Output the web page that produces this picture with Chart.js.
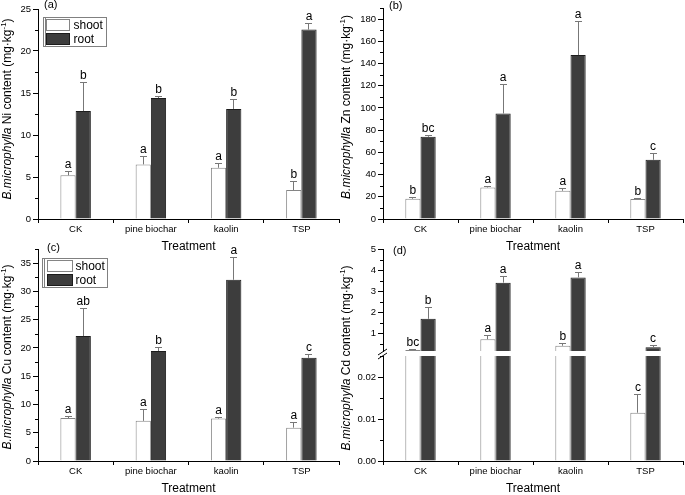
<!DOCTYPE html>
<html>
<head>
<meta charset="utf-8">
<script src="https://cdn.jsdelivr.net/npm/chart.js@4.4.1/dist/chart.umd.min.js"></script>
<style>
html,body{margin:0;padding:0;background:#fff;}
#wrap{position:relative;width:685px;height:495px;overflow:hidden;background:#fff;}
#wrap canvas{position:absolute;}
</style>
</head>
<body>
<div id="wrap">
<canvas id="cA" width="342" height="254" style="left:0;top:0"></canvas>
<canvas id="cB" width="345" height="254" style="left:340px;top:0"></canvas>
<canvas id="cC" width="342" height="256" style="left:0;top:240px"></canvas>
<canvas id="cD2" width="345" height="256" style="left:340px;top:240px"></canvas>
<canvas id="cD1" width="345" height="120" style="left:340px;top:240px"></canvas>
</div>
<script>
// ---------------- data ----------------
const categories = ['CK', 'pine biochar', 'kaolin', 'TSP'];
const seriesNames = ['shoot', 'root'];
const xTitle = 'Treatment';

// (a) Ni
const niShoot = [5.2, 6.5, 6.1, 3.45];
const niShootErr = [0.5, 1.05, 0.55, 1.05];
const niRoot = [12.85, 14.4, 13.1, 22.55];
const niRootErr = [3.5, 0.3, 1.2, 0.75];
const niShootLetters = ['a', 'a', 'a', 'b'];
const niRootLetters = ['b', 'b', 'b', 'a'];

// (b) Zn
const znShoot = [18.2, 28.4, 25.4, 18.0];
const znShootErr = [1.2, 1.5, 2.7, 0.9];
const znRoot = [74, 95, 147.6, 53.3];
const znRootErr = [1.7, 26.3, 30.6, 6.3];
const znShootLetters = ['b', 'a', 'a', 'b'];
const znRootLetters = ['bc', 'a', 'a', 'c'];

// (c) Cu
const cuShoot = [7.6, 7.1, 7.5, 5.9];
const cuShootErr = [0.36, 2.1, 0.35, 1.0];
const cuRoot = [22.1, 19.45, 32.05, 18.25];
const cuRootErr = [4.9, 0.7, 4.0, 0.6];
const cuShootLetters = ['a', 'a', 'a', 'a'];
const cuRootLetters = ['ab', 'b', 'a', 'c'];

// (d) Cd (broken axis)
const cdShoot = [0.2, 0.71, 0.4, 0.0115];
const cdShootErr = [0.03, 0.21, 0.12, 0.0044];
const cdRoot = [1.68, 3.4, 3.65, 0.33];
const cdRootErr = [0.56, 0.33, 0.25, 0.11];
const cdShootLetters = ['bc', 'a', 'b', 'c'];
const cdRootLetters = ['b', 'a', 'a', 'c'];

// ---------------- drawing ----------------
const FONT = "'Liberation Sans', Arial, Helvetica, sans-serif";

const decor = {
  id: 'decor',
  afterDatasetsDraw(chart, args, o) {
    if (!o.errs) return;
    const ctx = chart.ctx, y = chart.scales.y;
    ctx.save();
    chart.data.datasets.forEach((ds, i) => {
      const meta = chart.getDatasetMeta(i);
      meta.data.forEach((el, j) => {
        const v = ds.data[j], e = o.errs[i][j];
        if (v < y.min || v > y.max) return;
        const x = Math.floor(el.x) + 0.5;
        const py = y.getPixelForValue(v);
        const pe = Math.round(y.getPixelForValue(v + e)) + 0.5;
        ctx.strokeStyle = '#777'; ctx.lineWidth = 1;
        ctx.beginPath();
        ctx.moveTo(x, py); ctx.lineTo(x, pe);
        ctx.moveTo(x - 3.5, pe); ctx.lineTo(x + 3.5, pe);
        ctx.stroke();
        ctx.fillStyle = '#000';
        ctx.font = '12px ' + FONT;
        ctx.textAlign = 'center'; ctx.textBaseline = 'alphabetic';
        ctx.fillText(o.letters[i][j], el.x, pe - 3.5);
      });
    });
    ctx.restore();
  },
  afterDraw(chart, args, o) {
    const ctx = chart.ctx, y = chart.scales.y;
    ctx.save();
    if (o.minor) {
      const m = o.minor, maj = o.major;
      ctx.strokeStyle = '#000'; ctx.lineWidth = 1;
      ctx.beginPath();
      for (let k = Math.ceil(y.min / m - 1e-9); k * m <= y.max + 1e-9; k++) {
        const v = k * m, r = v / maj;
        if (Math.abs(r - Math.round(r)) < 1e-6) continue;
        const py = Math.round(y.getPixelForValue(v)) + 0.5;
        ctx.moveTo(y.right - 3, py); ctx.lineTo(y.right, py);
      }
      ctx.stroke();
    }
    if (o.legend) {
      const L = o.legend, ca = chart.chartArea;
      const bx = Math.round(ca.left + L.dx) + 0.5, by = Math.round(ca.top + L.dy) + 0.5;
      ctx.fillStyle = '#fff'; ctx.fillRect(bx, by, L.w, L.h);
      ctx.strokeStyle = '#808080'; ctx.lineWidth = 1;
      ctx.strokeRect(bx, by, L.w, L.h);
      ctx.beginPath(); ctx.moveTo(bx + 2, by); ctx.lineTo(bx + 2, by + L.h); ctx.stroke();
      chart.data.datasets.forEach((ds, i) => {
        const sx = bx + L.sx, sy = by + L.sy + i * L.rowH;
        ctx.fillStyle = ds.backgroundColor; ctx.fillRect(sx, sy, L.sw, L.sh);
        ctx.strokeStyle = ds.borderColor; ctx.strokeRect(sx, sy, L.sw, L.sh);
        ctx.fillStyle = '#000'; ctx.font = L.font + 'px ' + FONT;
        ctx.textAlign = 'left'; ctx.textBaseline = 'middle';
        ctx.fillText(ds.label, bx + L.tx, sy + L.sh / 2 + 0.5);
      });
    }
    if (o.title) {
      ctx.save();
      ctx.translate(o.title.x, o.title.y); ctx.rotate(-Math.PI / 2);
      const segs = o.title.segs;
      const fonts = segs.map(s => s[1] === 'i' ? 'italic 12px ' + FONT : (s[1] === 'sup' ? '8px ' + FONT : '12px ' + FONT));
      let total = 0;
      segs.forEach((s, k) => { ctx.font = fonts[k]; total += ctx.measureText(s[0]).width; });
      let cx = -total / 2;
      ctx.textBaseline = 'middle'; ctx.textAlign = 'left'; ctx.fillStyle = '#000';
      segs.forEach((s, k) => {
        ctx.font = fonts[k];
        ctx.fillText(s[0], cx, s[1] === 'sup' ? -4 : 0);
        cx += ctx.measureText(s[0]).width;
      });
      ctx.restore();
    }
    if (o.label) {
      ctx.fillStyle = '#000'; ctx.font = '11px ' + FONT;
      ctx.textAlign = 'left'; ctx.textBaseline = 'middle';
      ctx.fillText(o.label.text, o.label.x, o.label.y);
    }
    if (o.brk) {
      ctx.strokeStyle = '#000'; ctx.lineWidth = 1;
      ctx.beginPath();
      o.brk.forEach(l => { ctx.moveTo(l[0], l[1]); ctx.lineTo(l[2], l[3]); });
      ctx.stroke();
    }
    ctx.restore();
  }
};

function build(id, p) {
  const datasets = [
    { label: seriesNames[0], data: p.shoot, backgroundColor: '#ffffff', borderColor: '#858585',
      borderWidth: 1, clip: 0, categoryPercentage: 0.405, barPercentage: 1 },
    { label: seriesNames[1], data: p.root, backgroundColor: '#3d3d3d', borderColor: '#1c1c1c',
      borderWidth: 1, clip: 0, categoryPercentage: 0.405, barPercentage: 1 }
  ];
  const tickFont = { family: FONT, size: 9.5 };
  return new Chart(document.getElementById(id), {
    type: 'bar',
    data: { labels: categories, datasets },
    plugins: [decor],
    options: {
      responsive: false, animation: false, devicePixelRatio: 1,
      layout: { padding: p.pad },
      plugins: {
        legend: { display: false }, tooltip: { enabled: false },
        decor: {
          errs: [p.shootErr, p.rootErr], letters: [p.shootLetters, p.rootLetters],
          minor: p.minor, major: p.step, legend: p.legend, title: p.title,
          label: p.label, brk: p.brk
        }
      },
      scales: {
        x: {
          display: p.showX, offset: true,
          grid: { offset: true, drawOnChartArea: false, drawTicks: true, tickLength: 4, tickColor: '#000' },
          border: { display: true, color: '#000', width: 1 },
          ticks: { font: tickFont, color: '#000', padding: 1, autoSkip: false, maxRotation: 0 },
          title: { display: true, text: xTitle, font: { family: FONT, size: 12 }, color: '#000', padding: { top: 0, bottom: 0 } },
          afterFit(s) { s.height = p.showX ? 35 : 0; }
        },
        y: {
          min: p.min, max: p.max,
          grid: { drawOnChartArea: false, drawTicks: true, tickLength: 5, tickColor: '#000' },
          border: { display: true, color: '#000', width: 1 },
          ticks: { stepSize: p.step, font: tickFont, color: '#000', padding: 2,
                   callback: v => p.fmt ? p.fmt(v) : String(v) },
          afterBuildTicks(s) {
            s.ticks = s.ticks.filter(t => {
              const r = t.value / p.step;
              return Math.abs(r - Math.round(r)) < 1e-6 && t.value >= p.min - 1e-9 && t.value <= p.max + 1e-9;
            });
          },
          afterFit(s) { s.width = p.yWidth; }
        }
      }
    }
  });
}

build('cA', {
  shoot: niShoot, root: niRoot, shootErr: niShootErr, rootErr: niRootErr,
  shootLetters: niShootLetters, rootLetters: niRootLetters,
  min: 0, max: 25, step: 5, minor: 2.5, yWidth: 38, showX: true,
  pad: { top: 9, right: 3, bottom: 0, left: 0 },
  legend: { dx: 5, dy: 8, w: 63, h: 29, sx: 3, sy: 2, sw: 23, sh: 11, rowH: 14, tx: 30, font: 12 },
  title: { x: 8, y: 109, segs: [['B.microphylla', 'i'], [' Ni content (mg\u00b7kg', ''], ['-1', 'sup'], [')', '']] },
  label: { text: '(a)', x: 44, y: 5 }
});

build('cB', {
  shoot: znShoot, root: znRoot, shootErr: znShootErr, rootErr: znRootErr,
  shootLetters: znShootLetters, rootLetters: znRootLetters,
  min: 0, max: 190, step: 20, minor: 10, yWidth: 43, showX: true,
  pad: { top: 8, right: 2, bottom: 0, left: 0 },
  title: { x: 7, y: 107, segs: [['B.microphylla', 'i'], [' Zn content (mg\u00b7kg', ''], ['-1', 'sup'], [')', '']] },
  label: { text: '(b)', x: 49, y: 6 }
});

build('cC', {
  shoot: cuShoot, root: cuRoot, shootErr: cuShootErr, rootErr: cuRootErr,
  shootLetters: cuShootLetters, rootLetters: cuRootLetters,
  min: 0, max: 37.5, step: 5, minor: 2.5, yWidth: 38, showX: true,
  pad: { top: 9, right: 3, bottom: 0, left: 0 },
  legend: { dx: 4, dy: 9, w: 65, h: 29, sx: 5, sy: 2, sw: 25, sh: 11, rowH: 14, tx: 33, font: 12 },
  title: { x: 8, y: 117, segs: [['B.microphylla', 'i'], [' Cu content (mg\u00b7kg', ''], ['-1', 'sup'], [')', '']] },
  label: { text: '(c)', x: 47, y: 8 }
});

// (d) lower segment of the broken axis
build('cD2', {
  shoot: cdShoot, root: cdRoot, shootErr: cdShootErr, rootErr: cdRootErr,
  shootLetters: cdShootLetters, rootLetters: cdRootLetters,
  min: 0, max: 0.025, step: 0.01, minor: 0.005, yWidth: 43, showX: true,
  fmt: v => v.toFixed(2),
  pad: { top: 116, right: 2, bottom: 0, left: 0 },
  title: { x: 7, y: 118, segs: [['B.microphylla', 'i'], [' Cd content (mg\u00b7kg', ''], ['-1', 'sup'], [')', '']] },
  brk: [[38, 115, 47, 109], [38, 119, 47, 113]]
});

// (d) upper segment of the broken axis
build('cD1', {
  shoot: cdShoot, root: cdRoot, shootErr: cdShootErr, rootErr: cdRootErr,
  shootLetters: cdShootLetters, rootLetters: cdRootLetters,
  min: 0.15, max: 5, step: 1, minor: 0.5, yWidth: 43, showX: false,
  pad: { top: 9, right: 2, bottom: 9, left: 0 },
  label: { text: '(d)', x: 53, y: 11 }
});
</script>
</body>
</html>
